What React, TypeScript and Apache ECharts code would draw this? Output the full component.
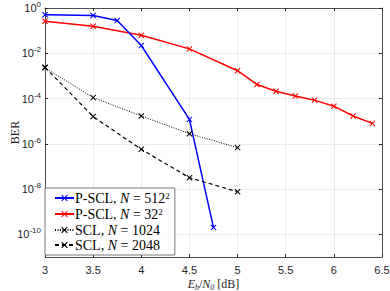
import React, { useEffect, useRef } from "react";
import * as echarts from "echarts";

const snrBlue = [3, 3.5, 3.75, 4, 4.5, 4.75];
const berBlue = [0.5, 0.47, 0.28, 0.022, 1.2e-5, 2e-10];
const snrRed = [3, 3.5, 4, 4.5, 5, 5.2, 5.4, 5.6, 5.8, 6, 6.2, 6.4];
const berRed = [0.26, 0.155, 0.062, 0.0156, 1.7e-3, 4.2e-4, 2.1e-4, 1.3e-4, 8.5e-5, 4.6e-5, 1.7e-5, 8e-6];
const snrScl = [3, 3.5, 4, 4.5, 5];
const ber1024 = [2.3e-3, 1.1e-4, 1.7e-5, 2.8e-6, 6.8e-7];
const ber2048 = [2.4e-3, 1.6e-5, 5.7e-7, 3.2e-8, 7.6e-9];
const yTicks = [1e-10, 1e-8, 1e-6, 1e-4, 1e-2, 1];
const seriesNames = ["P-SCL, N = 512^2", "P-SCL, N = 32^2", "SCL, N = 1024", "SCL, N = 2048"];

const XSYM = "path://M0,1.2L1.2,0L5,3.8L8.8,0L10,1.2L6.2,5L10,8.8L8.8,10L5,6.2L1.2,10L0,8.8L3.8,5Z";
const AX = "#262626";
const SERIF = "'Liberation Serif', 'DejaVu Serif', serif";
const SANS = "'Liberation Sans', Arial, sans-serif";

function zip(xs: number[], ys: number[]) {
  return xs.map((x, i) => [x, ys[i]]);
}

export default function App() {
  const ref = useRef<HTMLDivElement>(null);
  useEffect(() => {
    const chart = echarts.init(ref.current!, null, { renderer: "svg" });
    const mk = (name: string, xs: number[], ys: number[], color: string, lineType: any, width: number) => ({
      name,
      type: "line",
      data: zip(xs, ys),
      symbol: XSYM,
      symbolSize: 6,
      showSymbol: true,
      itemStyle: { color },
      lineStyle: { color, width, type: lineType },
      emphasis: { disabled: true },
    });
    const yAxisBase = {
      type: "log",
      logBase: 10,
      min: 1e-11,
      max: 1,
      axisLine: { show: true, lineStyle: { color: AX, width: 0.8 } },
      axisTick: { show: true, inside: true, length: 3, customValues: yTicks, lineStyle: { color: AX } },
      splitLine: { show: false },
    };
    chart.setOption({
      animation: false,
      grid: { left: 45, right: 8, top: 8, bottom: 34, containLabel: false, outerBoundsMode: "none" },
      xAxis: [
        {
          type: "value",
          min: 3,
          max: 6.5,
          interval: 0.5,
          name: "{i|E}{sub|b}{n|/}{i|N}{sub|0}{n| [dB]}",
          nameLocation: "middle",
          nameGap: 20,
          nameMoveOverlap: false,
          nameTextStyle: {
            rich: {
              i: { fontFamily: SERIF, fontStyle: "italic", fontSize: 12, color: AX },
              n: { fontFamily: SERIF, fontSize: 12, color: AX },
              sub: { fontFamily: SERIF, fontStyle: "italic", fontSize: 8, color: AX, verticalAlign: "bottom", padding: [6, 0, 0, 0] },
            },
          },
          axisLine: { show: true, onZero: false, lineStyle: { color: AX, width: 0.8 } },
          axisTick: { show: true, inside: true, length: 3, lineStyle: { color: AX } },
          axisLabel: { fontFamily: SANS, fontSize: 11, color: AX, margin: 7, formatter: (v: number) => String(v) },
          splitLine: { show: true, lineStyle: { color: "#e6e6e6", width: 0.8 } },
        },
        {
          type: "value",
          position: "top",
          min: 3,
          max: 6.5,
          interval: 0.5,
          axisLine: { show: true, onZero: false, lineStyle: { color: AX, width: 0.8 } },
          axisTick: { show: true, inside: true, length: 3, lineStyle: { color: AX } },
          axisLabel: { show: false },
          splitLine: { show: false },
        },
      ],
      yAxis: [
        {
          ...yAxisBase,
          name: "BER",
          nameLocation: "middle",
          nameGap: 24,
          nameMoveOverlap: false,
          nameTextStyle: { fontFamily: SERIF, fontSize: 12, color: AX },
          axisLabel: {
            customValues: yTicks,
            margin: 4,
            formatter: (v: number) => `{b|10}{s|${Math.round(Math.log10(v))}}`,
            rich: {
              b: { fontFamily: SANS, fontSize: 11, color: AX },
              s: { fontFamily: SANS, fontSize: 8, color: AX, verticalAlign: "top", padding: [0, 0, 7, 0] },
            },
          },
          splitLine: { show: true, lineStyle: { color: "#e6e6e6", width: 0.8 } },
        },
        {
          ...yAxisBase,
          position: "right",
          axisLabel: { show: false },
        },
      ],
      legend: {
        show: true,
        orient: "vertical",
        left: 45,
        top: 188,
        itemWidth: 19,
        itemHeight: 8,
        itemGap: 1,
        padding: [3, 5, 3, 9],
        backgroundColor: "#ffffff",
        borderColor: "#555555",
        borderWidth: 0.8,
        data: seriesNames,
        formatter: (name: string) => {
          const m = name.match(/^(.*?)N = (\d+)(\^(\d))?$/);
          if (!m) return name;
          let s = `{t|${m[1]}}{i|N}{t| = ${m[2]}}`;
          if (m[4]) s += `{sup|${m[4]}}`;
          return s;
        },
        textStyle: {
          padding: [0, 0, 0, -4],
          rich: {
            t: { fontFamily: SERIF, fontSize: 14, lineHeight: 14, color: "#000" },
            i: { fontFamily: SERIF, fontStyle: "italic", fontSize: 14, lineHeight: 14, color: "#000" },
            sup: { fontFamily: SERIF, fontSize: 9, lineHeight: 14, color: "#000", verticalAlign: "top", padding: [0, 0, 6, 0] },
          },
        },
      },
      series: [
        mk(seriesNames[1], snrRed, berRed, "#ff0000", "solid", 1.5),
        mk(seriesNames[0], snrBlue, berBlue, "#0000ff", "solid", 1.5),
        mk(seriesNames[2], snrScl, ber1024, "#000000", [1, 1.5], 1),
        mk(seriesNames[3], snrScl, ber2048, "#000000", [4, 3], 1.2),
      ],
    });
    return () => chart.dispose();
  }, []);
  return <div ref={ref} style={{ position: "absolute", left: 0, top: 0, width: 390, height: 291 }} />;
}
